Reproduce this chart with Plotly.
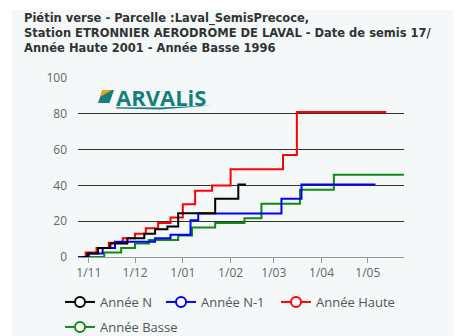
import plotly.graph_objects as go

# Cumulative risk index per season: dates where the value changes, and the new value
dates_n = ["2022-10-28", "2022-10-31", "2022-11-07", "2022-11-15", "2022-11-26", "2022-12-07",
           "2022-12-14", "2022-12-22", "2022-12-29", "2023-01-22", "2023-02-06", "2023-02-11"]
vals_n = [0, 2, 5, 7.5, 10.5, 13, 15.5, 17, 24.5, 32.5, 40.5, 40.5]

dates_n1 = ["2022-10-25", "2022-11-01", "2022-11-10", "2022-11-18", "2022-12-14", "2022-12-24",
            "2023-01-06", "2023-01-11", "2023-03-06", "2023-03-19", "2023-05-06"]
vals_n1 = [0, 2, 5, 8.5, 10.5, 12.5, 20.5, 24.3, 32.5, 40.5, 40.5]

dates_haute = ["2022-10-25", "2022-10-30", "2022-11-06", "2022-11-14", "2022-11-23", "2022-12-01",
               "2022-12-08", "2022-12-16", "2022-12-24", "2023-01-01", "2023-01-09", "2023-01-20",
               "2023-02-01", "2023-03-07", "2023-03-16", "2023-05-13"]
vals_haute = [0, 2.5, 5, 8, 10.5, 13, 16, 19, 22, 29.5, 37, 40, 49, 57, 81, 81]

dates_basse = ["2022-10-25", "2022-11-11", "2022-11-22", "2022-12-01", "2022-12-10", "2022-12-29",
               "2023-01-07", "2023-01-22", "2023-02-10", "2023-02-21", "2023-03-18", "2023-04-09",
               "2023-05-31"]
vals_basse = [0, 2.5, 5, 7.5, 9.5, 12, 16.5, 19, 21.7, 29.8, 37.6, 46, 46]

series = [
    ("Année Haute", dates_haute, vals_haute, "#ff0000"),
    ("Année Basse", dates_basse, vals_basse, "#118a11"),
    ("Année N-1", dates_n1, vals_n1, "#0000ff"),
    ("Année N", dates_n, vals_n, "#000000"),
]
# legend entries: name, left edge and vertical centre of each entry (pixels)
legend_entries = [("Année N", 60, 302), ("Année N-1", 161, 302),
                  ("Année Haute", 276, 302), ("Année Basse", 60, 327)]

title_lines = [
    "Piétin verse - Parcelle :Laval_SemisPrecoce,",
    "Station ETRONNIER AERODROME DE LAVAL - Date de semis 17/",
    "Année Haute 2001 - Année Basse 1996",
]

W, H = 467, 336
ML, MR, MT, MB = 78, 63, 78, 79
PW, PH = W - ML - MR, H - MT - MB
PANEL = "#f4f8f9"


def px(x):
    return (x - ML) / PW


def py(y):
    return (H - MB - y) / PH


fig = go.Figure()

for name, xs, ys, col in series:
    fig.add_trace(go.Scatter(x=xs, y=ys, mode="lines", line=dict(color=col, width=2, shape="hv"),
                             showlegend=False, hoverinfo="skip"))

colors = {name: col for name, _, _, col in series}
legends = {}
for i, (name, lx, ly) in enumerate(legend_entries):
    key = "legend" if i == 0 else f"legend{i + 1}"
    fig.add_trace(go.Scatter(x=[None], y=[None], mode="lines+markers", name=name,
                             legend=key,
                             line=dict(color=colors[name], width=2),
                             marker=dict(symbol="circle", size=10, color="white",
                                         line=dict(color=colors[name], width=2))))
    legends[key] = dict(orientation="h", x=px(lx), xanchor="left", y=py(ly), yanchor="middle",
                        font=dict(size=13, color="#555555"), bgcolor="rgba(0,0,0,0)",
                        itemwidth=30)

shapes = [
    # background panel
    dict(type="rect", xref="paper", yref="paper", x0=px(12), x1=px(453), y0=py(10), y1=py(340),
         fillcolor=PANEL, line=dict(width=0), layer="below"),
]


def path(points):
    return "M " + " L ".join(f"{px(a):.4f},{py(b):.4f}" for a, b in points) + " Z"


# logo mark
shapes.append(dict(type="path", xref="paper", yref="paper",
                   path=path([(98, 103), (102.5, 90), (114, 90), (109.5, 103)]),
                   fillcolor="#157f7b", line=dict(width=0)))
shapes.append(dict(type="path", xref="paper", yref="paper",
                   path=path([(100, 97), (102.5, 90), (112, 90)]),
                   fillcolor="#f2a20f", line=dict(width=0)))
shapes.append(dict(type="path", xref="paper", yref="paper",
                   path=path([(116, 108.5), (160, 109.5), (212, 105.5), (160, 107.6), (116, 107.3)]),
                   fillcolor="#157f7b", line=dict(width=0)))

annotations = [
    dict(text="<br>".join(title_lines), xref="paper", yref="paper", x=px(22), y=py(33),
         xanchor="left", yanchor="middle", align="left", showarrow=False,
         font=dict(family="DejaVu Sans", size=11.5, color="#333333", weight="bold")),
    dict(text="ARVALiS", xref="paper", yref="paper", x=px(114), y=py(96.5),
         xanchor="left", yanchor="middle", showarrow=False,
         font=dict(family="Open Sans", size=22, color="#157f7b", weight="bold")),
]

fig.update_layout(
    width=W, height=H,
    margin=dict(l=ML, r=MR, t=MT, b=MB, pad=0, autoexpand=False),
    paper_bgcolor="white", plot_bgcolor=PANEL,
    font=dict(family="Open Sans", color="#666666", size=12),
    shapes=shapes, annotations=annotations,
    xaxis=dict(type="date", range=["2022-10-25", "2023-05-24 12:00"],
               tick0="2022-11-01", dtick="M1", tickformat="%-d/%m",
               showgrid=False, showline=True, linecolor="#999999", linewidth=1,
               ticks="outside", ticklen=5, tickcolor="#999999",
               tickfont=dict(size=12, color="#666666"), zeroline=False),
    yaxis=dict(range=[0, 100], dtick=20, showgrid=True, gridcolor="#333333", gridwidth=1,
               zeroline=False, showline=False, ticks="", ticklabelstandoff=10,
               tickfont=dict(size=12, color="#666666")),
    **legends,
)

fig.write_html("out.html")
